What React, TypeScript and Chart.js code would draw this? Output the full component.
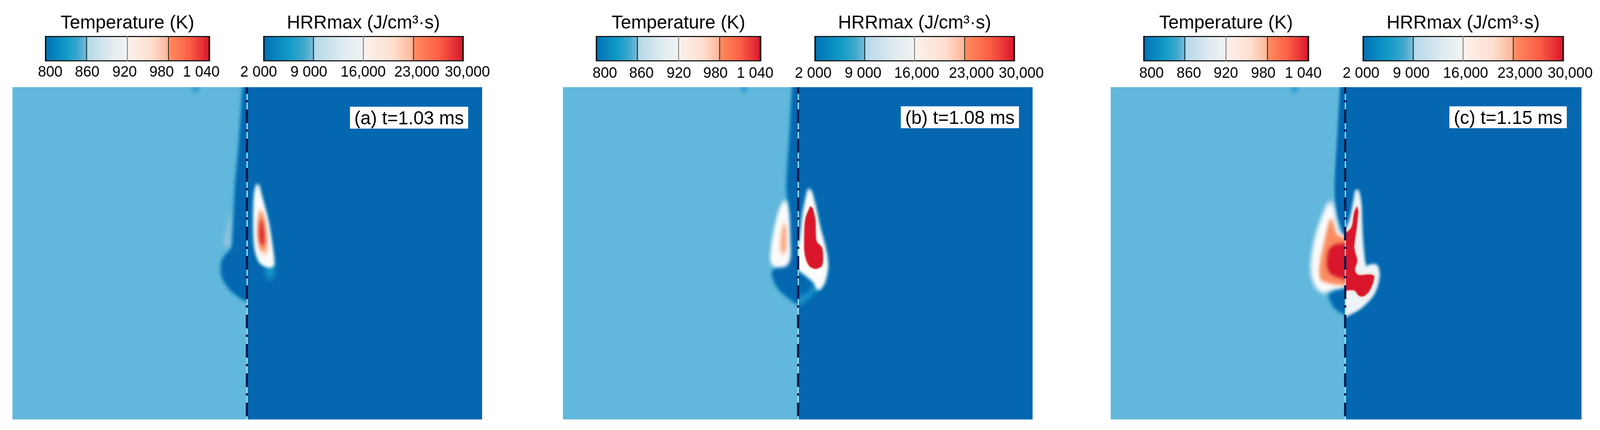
import { useEffect, useRef } from "react";
import { Chart, registerables } from "chart.js";

type Pt = [number, number];

const tempTicks = [800, 860, 920, 980, 1040];
const tempLabels = ["800", "860", "920", "980", "1 040"];
const hrrTicks = [2000, 9000, 16000, 23000, 30000];
const hrrLabels = ["2 000", "9 000", "16,000", "23,000", "30,000"];

// contours: x from the centre line, y down from the top edge
const blob = (cx: number): Pt[] => [[cx - 11, -5], [cx + 11, -5], [cx + 9, 8], [cx, 15], [cx - 9, 8]];

const tempJetA: Pt[] = [[30, -20], [-10, -20], [-11, 2], [-19, 124], [-31, 257], [-32, 277], [-37, 377], [-40, 410], [-54, 427], [-66, 444], [-68, 477], [-61, 494], [-51, 510], [-34, 527], [-7, 544], [30, 552]];
const tempStreakA: Pt[] = [[-38, 315], [-48, 340], [-60, 380], [-60, 408], [-40, 410], [-36, 360]];
const hrrTailA: Pt[] = [[50, 450], [70, 450], [72, 480], [58, 495], [50, 480]];
const hrrOuterA: Pt[] = [[26, 248], [21, 277], [19, 343], [22, 410], [34, 446], [52, 458], [68, 458], [70, 444], [66, 410], [55, 343], [37, 277], [30, 250]];
const hrrPeachA: Pt[] = [[33, 310], [28, 345], [29, 392], [41, 428], [55, 423], [54, 390], [48, 345], [38, 310]];
const hrrOrangeA: Pt[] = [[33, 325], [30, 370], [36, 415], [48, 415], [51, 385], [45, 335], [38, 318]];
const hrrRedA: Pt[] = [[35, 340], [33, 385], [40, 405], [46, 398], [45, 365], [40, 340]];

const tempJetB: Pt[] = [[30, -20], [-14, -20], [-15, 2], [-22, 124], [-30, 257], [-26, 300], [-24, 400], [-26, 440], [-67, 470], [-66, 490], [-51, 517], [-24, 540], [-2, 554], [30, 560]];
const tempOuterB: Pt[] = [[-37, 290], [-51, 324], [-66, 390], [-71, 440], [-64, 456], [-34, 456], [-24, 440], [-24, 390], [-27, 324], [-32, 295]];
const tempPeachB: Pt[] = [[-37, 340], [-46, 374], [-49, 417], [-41, 432], [-31, 417], [-32, 357]];
const tempOrangeB: Pt[] = [[-38, 350], [-43, 385], [-43, 415], [-36, 420], [-33, 400], [-33, 360]];
const hrrRingB: Pt[] = [[-20, 470], [-20, 565], [10, 553], [40, 530], [66, 500], [75, 460], [30, 470]];
const hrrPocketB: Pt[] = [[-20, 480], [-20, 535], [20, 530], [42, 505], [47, 495], [26, 480], [5, 465]];
const hrrOuterB: Pt[] = [[28, 258], [14, 324], [6, 390], [-5, 424], [-2, 460], [26, 484], [44, 500], [53, 518], [68, 500], [77, 457], [72, 417], [56, 357], [45, 307], [35, 270]];
const hrrRedB: Pt[] = [[32, 304], [19, 337], [16, 390], [18, 430], [29, 457], [46, 465], [63, 457], [66, 434], [63, 410], [49, 394], [46, 340], [39, 310]];

const tempJetC: Pt[] = [[30, -20], [-13, -20], [-14, 2], [-21, 124], [-28, 257], [-23, 323], [-13, 357], [-1, 390], [30, 400]];
const tempOuterC: Pt[] = [[-39, 290], [-58, 330], [-78, 390], [-88, 457], [-81, 500], [-59, 524], [-39, 518], [20, 508], [20, 397], [-16, 374], [-26, 344], [-33, 307]];
const tempPocketC: Pt[] = [[30, 510], [-26, 522], [-43, 532], [-39, 546], [-26, 566], [-5, 579], [30, 587]];
const tempOrangeC: Pt[] = [[-38, 334], [-49, 374], [-66, 457], [-61, 494], [20, 499], [20, 400], [-23, 377], [-33, 347]];
const tempRedC: Pt[] = [[-31, 404], [-44, 417], [-48, 457], [-36, 480], [20, 489], [20, 404], [-16, 400]];
const hrrOuterC: Pt[] = [[29, 262], [16, 330], [3, 362], [-20, 370], [-20, 588], [18, 577], [46, 560], [76, 527], [89, 484], [83, 456], [66, 456], [54, 460], [47, 417], [43, 357], [41, 300], [35, 266]];
const hrrRedC: Pt[] = [[31, 304], [24, 320], [17, 357], [2, 372], [-20, 376], [-20, 517], [24, 520], [37, 534], [51, 534], [67, 517], [77, 484], [66, 479], [34, 480], [26, 467], [32, 444], [26, 420], [24, 407], [31, 357], [35, 317]];

const dividerLine: Pt[] = [[0, 0], [0, 850]];

const LIGHT = "#62b8dc";
const DEEP = "#0467b0";
const TEAL = "#1c9aca";
const WHITE = "#fbfbfb";
const PEACH = "#fdc8ae";
const ORANGE = "#f98c60";
const RED = "#d9162c";

const barStops: [number, string][] = [
  [0, "#0070b5"], [0.13, "#129bc7"], [0.2, "#3da8cc"], [0.25, "#7abbd8"], [0.255, "#b5d9e9"],
  [0.4, "#e0ebf0"], [0.5, "#f1f3f4"], [0.505, "#fbf1ec"], [0.65, "#ffdfd0"], [0.745, "#fdb79b"],
  [0.76, "#fe8a5e"], [0.88, "#fb5e45"], [1, "#d9162c"],
];
const gridShades = ["#111", "#12303c", "#85857c", "#3a2a20", "#111"];

type Layer = { side: number; pts: Pt[]; color: string; blur: number };

const layersA: Layer[] = [
  { side: -1, pts: blob(-137), color: "#35a2cf", blur: 4 },
  { side: -1, pts: tempStreakA, color: "#8cc2dc", blur: 6 },
  { side: -1, pts: tempJetA, color: TEAL, blur: 6 },
  { side: -1, pts: tempJetA, color: DEEP, blur: 4 },
  { side: 1, pts: hrrTailA, color: TEAL, blur: 8 },
  { side: 1, pts: hrrOuterA, color: TEAL, blur: 7 },
  { side: 1, pts: hrrOuterA, color: WHITE, blur: 5 },
  { side: 1, pts: hrrOuterA, color: WHITE, blur: 5 },
  { side: 1, pts: hrrPeachA, color: PEACH, blur: 5 },
  { side: 1, pts: hrrOrangeA, color: ORANGE, blur: 5 },
  { side: 1, pts: hrrRedA, color: "#dd2a2c", blur: 4 },
];
const layersB: Layer[] = [
  { side: -1, pts: blob(-143), color: "#35a2cf", blur: 4 },
  { side: -1, pts: tempJetB, color: TEAL, blur: 6 },
  { side: -1, pts: tempJetB, color: DEEP, blur: 4 },
  { side: -1, pts: tempOuterB, color: WHITE, blur: 6 },
  { side: -1, pts: tempOuterB, color: WHITE, blur: 6 },
  { side: -1, pts: tempPeachB, color: "#fcd2bc", blur: 5 },
  { side: -1, pts: tempOrangeB, color: "#f8a67f", blur: 4 },
  { side: 1, pts: hrrRingB, color: TEAL, blur: 7 },
  { side: 1, pts: hrrPocketB, color: DEEP, blur: 7 },
  { side: 1, pts: hrrOuterB, color: TEAL, blur: 7 },
  { side: 1, pts: hrrOuterB, color: WHITE, blur: 5 },
  { side: 1, pts: hrrOuterB, color: WHITE, blur: 5 },
  { side: 1, pts: hrrRedB, color: "#fde0b8", blur: 3 },
  { side: 1, pts: hrrRedB, color: RED, blur: 1.5 },
];
const layersC: Layer[] = [
  { side: -1, pts: blob(-135), color: "#35a2cf", blur: 4 },
  { side: -1, pts: tempJetC, color: DEEP, blur: 3 },
  { side: -1, pts: tempOuterC, color: WHITE, blur: 7 },
  { side: -1, pts: tempOuterC, color: WHITE, blur: 7 },
  { side: -1, pts: tempPocketC, color: TEAL, blur: 6 },
  { side: -1, pts: tempPocketC, color: DEEP, blur: 5 },
  { side: -1, pts: tempOrangeC, color: PEACH, blur: 6 },
  { side: -1, pts: tempOrangeC, color: "#fa8a5e", blur: 5 },
  { side: -1, pts: tempRedC, color: RED, blur: 4 },
  { side: 1, pts: hrrOuterC, color: TEAL, blur: 6 },
  { side: 1, pts: hrrOuterC, color: "#eef3f7", blur: 4 },
  { side: 1, pts: hrrOuterC, color: "#eef3f7", blur: 4 },
  { side: 1, pts: hrrRedC, color: "#fdd0b0", blur: 4 },
  { side: 1, pts: hrrRedC, color: RED, blur: 1.5 },
];

// runs before the filler plugin, so each contour's fill gets its half clip and blur
const contourClip = {
  id: "contourClip",
  beforeDatasetsDraw(chart: any) {
    if (chart.config.type !== "scatter") return;
    const { ctx, chartArea: a, scales } = chart;
    const mid = scales.x.getPixelForValue(0);
    ctx.fillStyle = LIGHT;
    ctx.fillRect(a.left, a.top, mid - a.left, a.bottom - a.top);
    ctx.fillStyle = DEEP;
    ctx.fillRect(mid, a.top, a.right - mid, a.bottom - a.top);
  },
  beforeDatasetDraw(chart: any, args: any) {
    const ds = chart.data.datasets[args.index];
    if (!ds.side) return;
    const { ctx, chartArea: a, scales } = chart;
    const mid = scales.x.getPixelForValue(0);
    ctx.save();
    ctx.beginPath();
    if (ds.side < 0) ctx.rect(a.left, a.top, mid - a.left, a.bottom - a.top);
    else ctx.rect(mid, a.top, a.right - mid, a.bottom - a.top);
    ctx.clip();
    ctx.filter = `blur(${ds.blur}px)`;
  },
  afterDatasetDraw(chart: any, args: any) {
    if (chart.data.datasets[args.index].side) chart.ctx.restore();
  },
};

Chart.register(contourClip, ...registerables);

const FONT = "'Liberation Sans', Arial, sans-serif";
const PAD = 140;
const PAGE_WIDTH = 4238;

type BarProps = {
  title: string;
  ticks: number[];
  labels: string[];
  left: number;
  right: number;
  labelPx: number[];
  titleShift: number;
  labelGap: number;
};

function ColorBar({ title, ticks, labels, left, right, labelPx, titleShift, labelGap }: BarProps) {
  const ref = useRef<HTMLCanvasElement | null>(null);
  const padRight = PAD + titleShift * 2;
  const width = right - left + PAD + padRight;

  useEffect(() => {
    if (!ref.current) return;
    const min = ticks[0];
    const max = ticks[ticks.length - 1];
    const labelAt = labelPx.map((px) => min + ((px - left) / (right - left)) * (max - min));
    const chart = new Chart(ref.current, {
      type: "bar",
      data: {
        labels: [""],
        datasets: [
          {
            data: [[min, max]],
            xAxisID: "x",
            yAxisID: "y",
            barPercentage: 1,
            categoryPercentage: 1,
            borderSkipped: false,
            borderColor: "#111",
            borderWidth: 3,
            backgroundColor: (c: any) => {
              const area = c.chart.chartArea;
              if (!area) return barStops[0][1];
              const g = c.chart.ctx.createLinearGradient(area.left, 0, area.right, 0);
              barStops.forEach(([at, col]) => g.addColorStop(at, col));
              return g;
            },
          } as any,
        ],
      },
      options: {
        indexAxis: "y",
        animation: false,
        responsive: false,
        devicePixelRatio: 1,
        events: [],
        layout: { padding: { left: PAD, right: padRight, top: 30, bottom: 0 } },
        plugins: {
          legend: { display: false },
          tooltip: { enabled: false },
          title: {
            display: true,
            text: title,
            color: "#000",
            font: { family: FONT, size: 49, weight: "normal", lineHeight: 1.2 },
            padding: { top: 0, bottom: 3.2 },
          },
        },
        scales: {
          y: { display: false },
          x: {
            type: "linear",
            position: "bottom",
            min,
            max,
            afterBuildTicks: (s: any) => {
              s.ticks = ticks.map((value) => ({ value }));
            },
            afterFit: (s: any) => {
              s.height = 0;
            },
            ticks: { display: false },
            border: { display: false },
            grid: {
              z: 1,
              drawTicks: false,
              lineWidth: 2.5,
              color: (c: any) => gridShades[c.index],
            },
          },
          xl: {
            type: "linear",
            axis: "x",
            position: "bottom",
            min,
            max,
            afterBuildTicks: (s: any) => {
              s.ticks = labelAt.map((value) => ({ value }));
            },
            afterFit: (s: any) => {
              s.height = 50;
            },
            border: { display: false },
            grid: { display: false, drawTicks: false },
            ticks: {
              autoSkip: false,
              maxRotation: 0,
              minRotation: 0,
              padding: labelGap,
              color: "#000",
              font: { family: FONT, size: 39, lineHeight: 1.2 },
              callback: (_v: any, i: number) => labels[i],
            },
          },
        },
      } as any,
    });
    return () => chart.destroy();
  }, [title, ticks, labels, left, right, labelPx, padRight, labelGap]);

  return (
    <canvas
      ref={ref}
      width={width}
      height={207}
      style={{ position: "absolute", left: left - PAD, top: 0, width, height: 207 }}
    />
  );
}

type FieldProps = { left: number; right: number; mid: number; layers: Layer[] };

function Field({ left, right, mid, layers }: FieldProps) {
  const ref = useRef<HTMLCanvasElement | null>(null);
  const width = right - left;

  useEffect(() => {
    if (!ref.current) return;
    const toXY = (pts: Pt[]) => pts.map(([x, y]) => ({ x, y }));
    const contours = layers.map((l, i) => ({
      data: toXY(l.pts),
      showLine: true,
      fill: "shape",
      backgroundColor: l.color,
      borderWidth: 0,
      pointRadius: 0,
      tension: 0.3,
      capBezierPoints: false,
      order: -i,
      side: l.side,
      blur: l.blur,
    }));
    const chart = new Chart(ref.current, {
      type: "scatter",
      data: {
        datasets: [
          ...contours,
          {
            data: toXY(dividerLine.map(([, y]) => [0.5, y] as Pt)),
            showLine: true,
            borderColor: "#a8ecfb",
            borderWidth: 3,
            pointRadius: 0,
            order: -100,
          },
          {
            data: toXY(dividerLine),
            showLine: true,
            borderColor: "#031c4f",
            borderWidth: 6,
            borderDash: [35, 16, 6, 18],
            borderDashOffset: 18,
            borderCapStyle: "butt",
            pointRadius: 0,
            order: -101,
          },
        ] as any,
      },
      options: {
        animation: false,
        responsive: false,
        devicePixelRatio: 1,
        events: [],
        layout: { padding: 0 },
        plugins: { legend: { display: false }, tooltip: { enabled: false } },
        scales: {
          x: { display: false, type: "linear", min: left - mid, max: right - mid },
          y: { display: false, type: "linear", min: 0, max: 850, reverse: true },
        },
      } as any,
    });
    return () => chart.destroy();
  }, [left, right, mid, layers]);

  return (
    <canvas
      ref={ref}
      width={width}
      height={850}
      style={{ position: "absolute", left, top: 223, width, height: 850 }}
    />
  );
}

function Stamp({ text, left, right, top }: { text: string; left: number; right: number; top: number }) {
  return (
    <div
      style={{
        position: "absolute",
        left,
        top,
        width: right - left,
        height: 56,
        background: "#fff",
        color: "#000",
        textAlign: "center",
        font: `49px/56px ${FONT}`,
      }}
    >
      {text}
    </div>
  );
}

const tempTitle = "Temperature (K)";
const hrrTitle = "HRRmax (J/cm³·s)";

export default function App() {
  // the window can be narrower than the layout, so fit the layout to its width
  const squeeze = Math.min(1, window.innerWidth / PAGE_WIDTH);
  return (
    <div
      style={{
        position: "absolute",
        left: 0,
        top: 0,
        width: PAGE_WIDTH,
        height: 1100,
        background: "#fff",
        overflow: "hidden",
        transform: `scaleX(${squeeze})`,
        transformOrigin: "0 0",
      }}
    >
      <ColorBar title={tempTitle} ticks={tempTicks} labels={tempLabels} left={120} right={555} labelPx={[133, 231, 330, 428, 533]} titleShift={4} labelGap={5} />
      <ColorBar title={hrrTitle} ticks={hrrTicks} labels={hrrLabels} left={698} right={1227} labelPx={[685, 818, 962, 1104, 1238]} titleShift={8} labelGap={5} />
      <Field left={33} right={1277} mid={654} layers={layersA} />
      <Stamp text="(a) t=1.03 ms" left={927} right={1240} top={273} />

      <ColorBar title={tempTitle} ticks={tempTicks} labels={tempLabels} left={1579} right={2015} labelPx={[1602, 1699, 1798, 1895, 2000]} titleShift={5} labelGap={8} />
      <ColorBar title={hrrTitle} ticks={hrrTicks} labels={hrrLabels} left={2158} right={2687} labelPx={[2154, 2286, 2428, 2573, 2705]} titleShift={8} labelGap={8} />
      <Field left={1491} right={2735} mid={2114} layers={layersB} />
      <Stamp text="(b) t=1.08 ms" left={2386} right={2699} top={272} />

      <ColorBar title={tempTitle} ticks={tempTicks} labels={tempLabels} left={3029} right={3466} labelPx={[3050, 3149, 3247, 3346, 3452]} titleShift={5} labelGap={8} />
      <ColorBar title={hrrTitle} ticks={hrrTicks} labels={hrrLabels} left={3610} right={4141} labelPx={[3605, 3738, 3882, 4026, 4159]} titleShift={7} labelGap={8} />
      <Field left={2942} right={4189} mid={3563} layers={layersC} />
      <Stamp text="(c) t=1.15 ms" left={3839} right={4150} top={272} />
    </div>
  );
}
